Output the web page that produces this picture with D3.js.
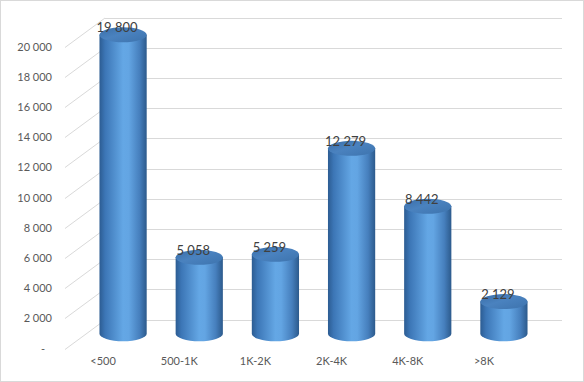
<!DOCTYPE html>
<html>
<head>
<meta charset="utf-8">
<script src="https://cdn.jsdelivr.net/npm/d3@7"></script>
<style>
  html, body { margin: 0; padding: 0; background: #fff; }
  svg { display: block; }
  text { font-family: Lato, "Open Sans", "Liberation Sans", sans-serif; }
</style>
</head>
<body>
<svg id="chart" width="584" height="382"></svg>
<script>
const categories = ["<500", "500-1K", "1K-2K", "2K-4K", "4K-8K", ">8K"];
const values = [19800, 5058, 5259, 12279, 8442, 2129];
const tickValues = [0, 2000, 4000, 6000, 8000, 10000, 12000, 14000, 16000, 18000, 20000];

const W = 584, H = 382;
const svg = d3.select("#chart");

// depth offsets (front plane -> back wall)
const depthX = 40, depthY = -29.5;

const x = d3.scaleBand().domain(categories).range([65, 522]).paddingInner(0).paddingOuter(0);
const y = d3.scaleLinear().domain([0, 20000]).range([348.5, 46.5]);

const fmt = v => v === 0 ? "-" : d3.format(",")(v).replace(/,/g, " ");

const defs = svg.append("defs");
const gBody = defs.append("linearGradient").attr("id", "body").attr("x1", "0").attr("x2", "1").attr("y1", "0").attr("y2", "0");
[["0%", "#2c5c92"], ["12%", "#3c76b6"], ["50%", "#64a7e5"], ["62%", "#63a5e3"], ["85%", "#467fbd"], ["100%", "#2c5a8c"]]
  .forEach(([o, c]) => gBody.append("stop").attr("offset", o).attr("stop-color", c));
const gTop = defs.append("linearGradient").attr("id", "top").attr("x1", "0").attr("x2", "1").attr("y1", "0").attr("y2", "1");
[["0%", "#3a6ea8"], ["45%", "#4a82bf"], ["100%", "#3d73ad"]]
  .forEach(([o, c]) => gTop.append("stop").attr("offset", o).attr("stop-color", c));

// outer border
svg.append("rect").attr("x", 0.5).attr("y", 0.5).attr("width", W - 1).attr("height", H - 1)
  .attr("fill", "#fff").attr("stroke", "#d9d9d9");

const [x0, x1] = x.range();
// side wall diagonals + back wall gridlines
const grid = svg.append("g").attr("stroke", "#d9d9d9").attr("stroke-width", 1).attr("fill", "none");
tickValues.forEach(t => {
  const yf = Math.round(y(t)) + 0.5;
  grid.append("line").attr("x1", x0).attr("y1", yf).attr("x2", x0 + depthX).attr("y2", yf + depthY);
  grid.append("line").attr("x1", x0 + depthX).attr("y1", Math.round(yf + depthY) + 0.5)
    .attr("x2", x1 + depthX).attr("y2", Math.round(yf + depthY) + 0.5);
});

// y axis labels
const yAxis = svg.append("g").attr("transform", `translate(${x0},0)`)
  .call(d3.axisLeft(y).tickValues(tickValues).tickFormat(fmt).tickSize(0).tickPadding(13));
yAxis.select(".domain").remove();
yAxis.selectAll("text").attr("fill", "#595959").style("font-size", "11px")
  .attr("dx", d => d === 0 ? -7 : 0);

// x axis labels (front plane)
const xAxis = svg.append("g").attr("transform", `translate(0,${y(0)})`)
  .call(d3.axisBottom(x).tickSize(0).tickPadding(9));
xAxis.select(".domain").remove();
xAxis.selectAll("text").attr("fill", "#595959").style("font-size", "11px");

// cylinders at mid depth
const midX = depthX / 2, midY = depthY / 2;
const rx = x.bandwidth() * 0.31, ry = 7.5;
const bars = svg.append("g");
categories.forEach((c, i) => {
  const v = values[i];
  const cx = x(c) + x.bandwidth() / 2 + midX;
  const yb = y(0) + midY;
  const yt = y(v) + midY;
  bars.append("path")
    .attr("d", `M${cx - rx},${yt} L${cx - rx},${yb} A${rx},${ry} 0 0 0 ${cx + rx},${yb} L${cx + rx},${yt} Z`)
    .attr("fill", "url(#body)");
  bars.append("ellipse").attr("cx", cx).attr("cy", yt).attr("rx", rx).attr("ry", ry)
    .attr("fill", "url(#top)");
  svg.append("text").attr("x", cx - 6).attr("y", yt - 7).attr("dy", "0.35em")
    .attr("text-anchor", "middle").attr("fill", "#404040").style("font-size", "13px")
    .text(fmt(v));
});
</script>
</body>
</html>
